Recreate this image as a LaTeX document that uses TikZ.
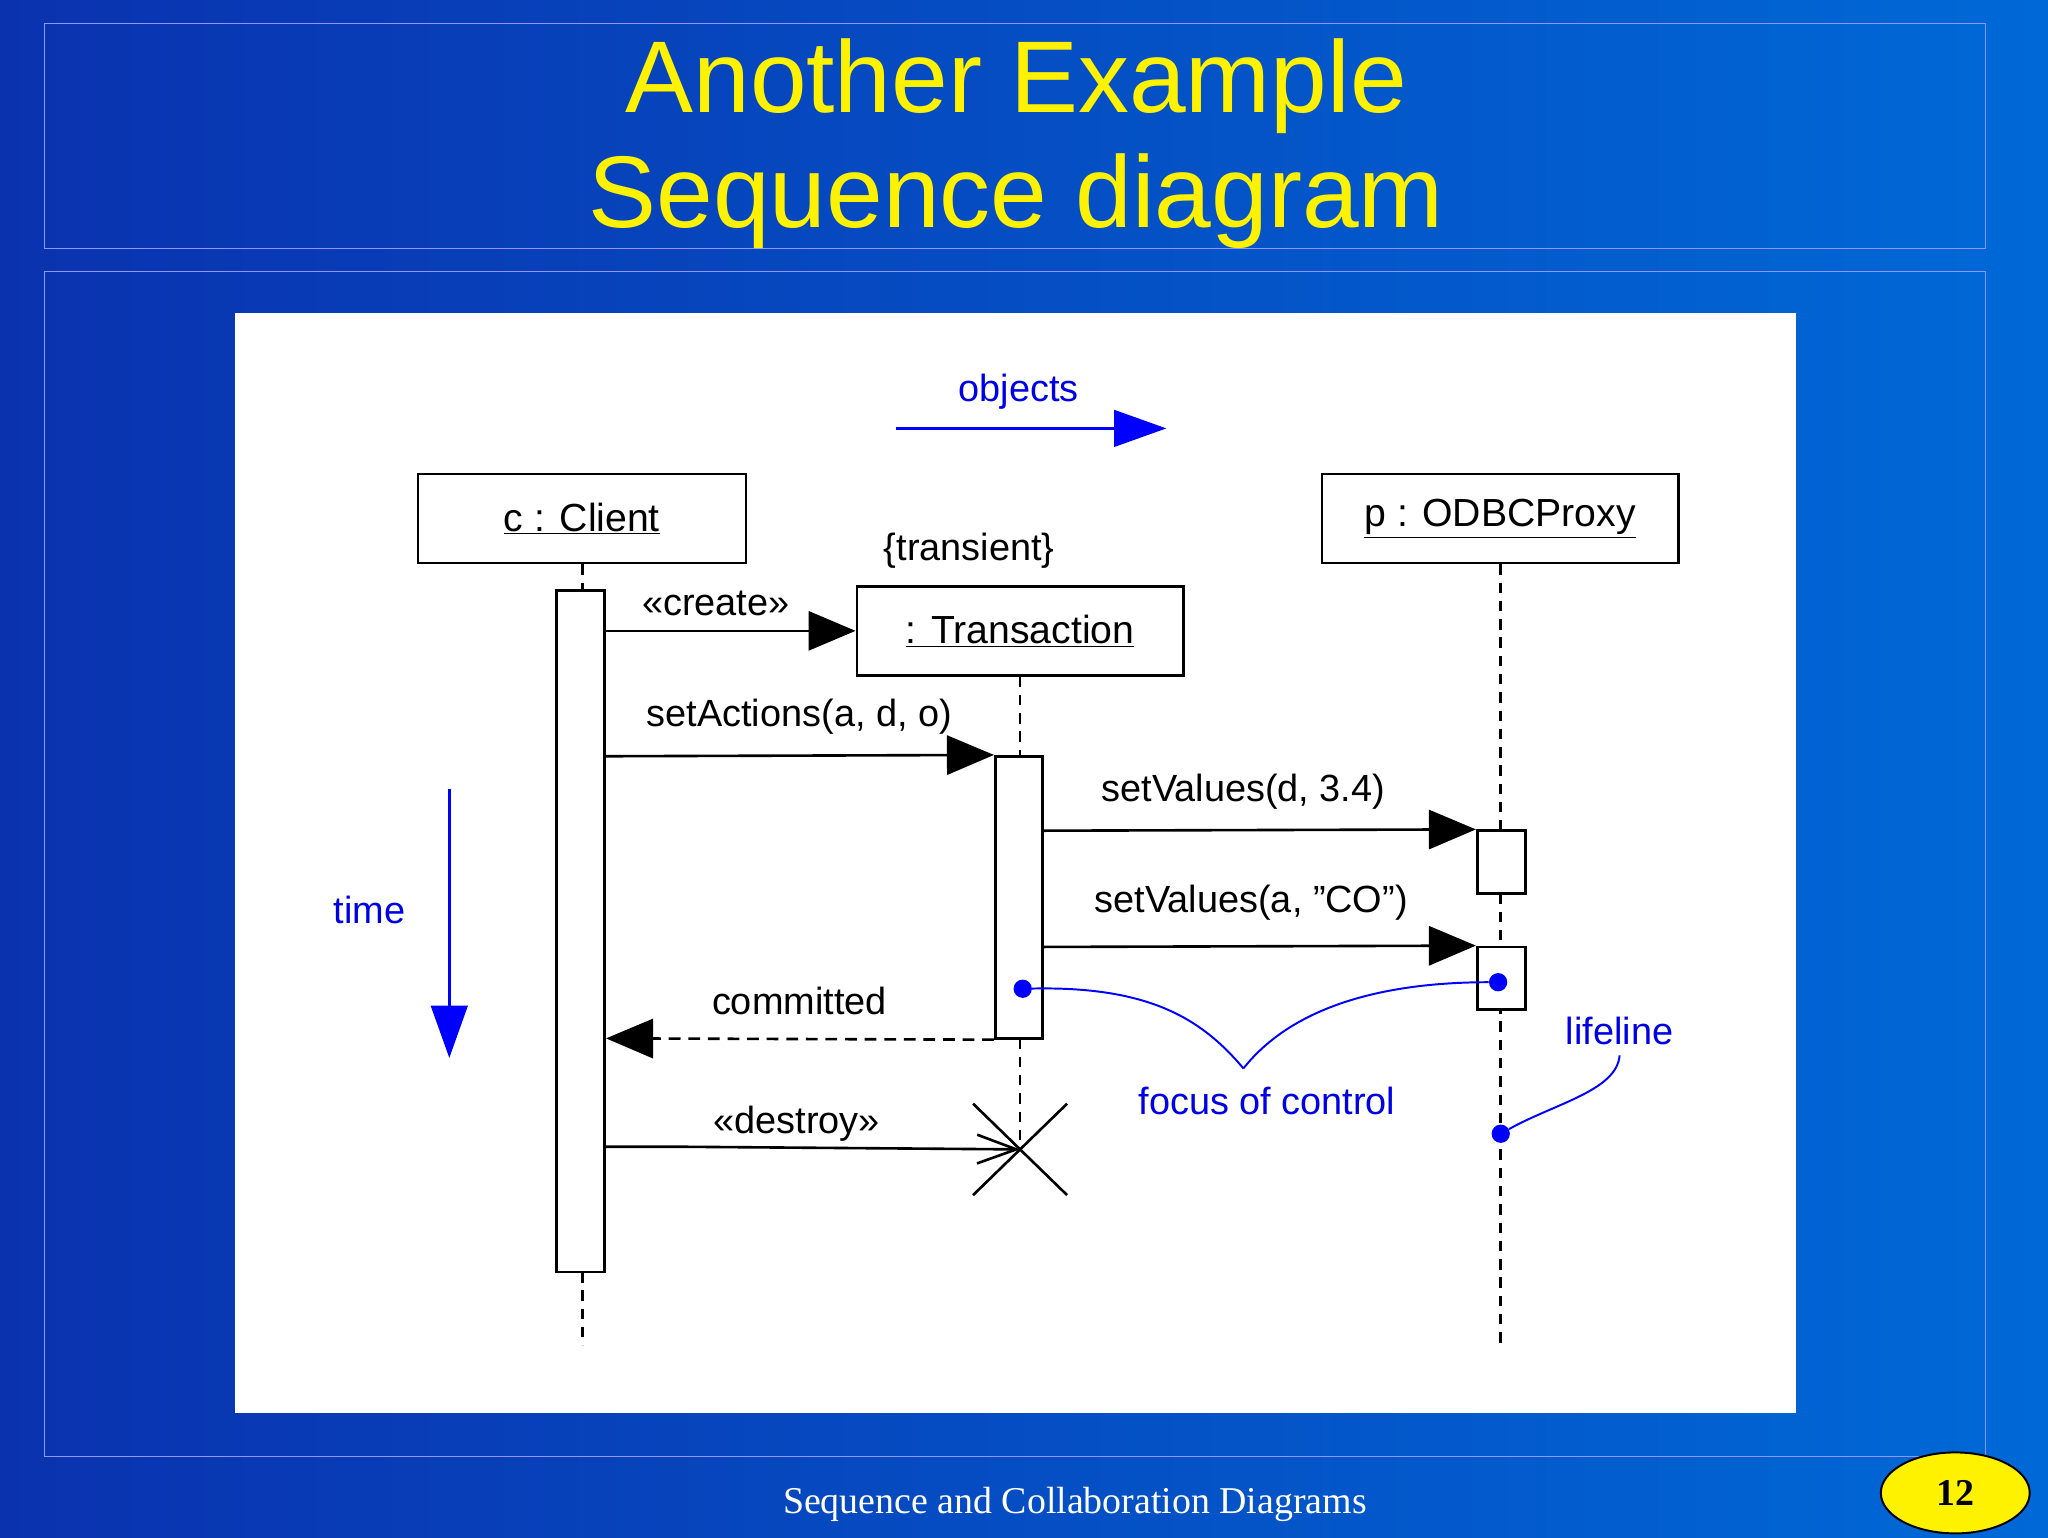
\documentclass[tikz,border=0pt]{standalone}
\usepackage{fontspec}
\setmainfont{Liberation Sans}
\newfontfamily\seriffont{Liberation Serif}
\usetikzlibrary{arrows.meta,shapes.geometric}
\begin{document}
\begin{tikzpicture}[x=1pt,y=-1pt,
  obj/.style={draw,line width=2pt,fill=white,minimum height=68pt,font=\fontsize{30}{34}\selectfont,inner sep=0pt},
  act/.style={draw,line width=2pt,fill=white,inner sep=0pt},
  lbl/.style={font=\fontsize{29}{34}\selectfont},
  bl/.style={font=\fontsize{29}{34}\selectfont,text=blue!90!black},
  msg/.style={line width=2pt,-{Triangle[length=36pt,width=30pt]}},
  life/.style={line width=2pt,dash pattern=on 8pt off 6pt},
  bdot/.style={circle,fill=blue,inner sep=0pt,minimum size=14pt}]
\useasboundingbox (0,0) rectangle (1568,1177);
\shade[left color={rgb,255:red,10;green,50;blue,175},right color={rgb,255:red,0;green,105;blue,215}] (0,0) rectangle (1568,1177);
\draw[white!40!blue!70,line width=1pt] (34,18) rectangle (1520,190);
\draw[white!40!blue!70,line width=1pt] (34,208) rectangle (1520,1115);
\node[text=yellow,font=\fontsize{78}{88}\selectfont,align=center] (title) at (778,110) {Another Example\\Sequence diagram};
\fill[white] (180,240) rectangle (1375,1082);
% objects
\node[bl] (objl) at (780,300) {objects};
\coordinate (oa) at (686,328); \coordinate (ob) at (893,328);
\draw[blue,line width=2pt,-{Triangle[length=40pt,width=28pt]}] (oa) -- (ob);
\node[obj,minimum width=251pt] (client) at (445.5,397) {\underline{c : Client}};
\node[obj,minimum width=273pt] (proxy) at (1148.5,397) {\underline{p : ODBCProxy}};
\node[lbl] (trl) at (742,422) {\{transient\}};
\node[obj,minimum width=250pt] (trans) at (781,483) {\underline{: Transaction}};
% lifelines
\coordinate (c1) at (446,452); \coordinate (c2) at (446,974); \coordinate (c3) at (446,1030);
\draw[life] (client.south -| c1) -- (c1);
\draw[life] (c2) -- (c3);
\node[act,minimum width=37pt,minimum height=522pt] (cact) at (444.5,713) {};
\coordinate (t1) at (781,579); \coordinate (t2) at (781,795); \coordinate (tx) at (781,880);
\draw[life] (trans.south) -- (t1);
\draw[life] (t2) -- (tx);
\node[act,minimum width=36pt,minimum height=216pt] (tact) at (780,687) {};
\coordinate (p1) at (1149,1028);
\draw[life] (proxy.south -| p1) -- (p1);
\node[act,minimum width=37pt,minimum height=48pt] (pa1) at (1149.5,660) {};
\node[act,minimum width=37pt,minimum height=48pt] (pa2) at (1149.5,749) {};
% destroy X
\draw[line width=2pt] (745,845) -- (817,915) (745,915) -- (817,845);
% messages
\draw[msg] (cact.east |- 0,483) -- (trans.west);
\node[lbl] (m1) at (548,462) {«create»};
\draw[msg] (cact.east |- 0,579) -- (tact.north west);
\node[lbl] (m2) at (612,549) {setActions(a, d, o)};
\draw[msg] (tact.east |- 0,636) -- (pa1.north west);
\node[lbl] (m3) at (952,606) {setValues(d, 3.4)};
\draw[msg] (tact.east |- 0,725) -- (pa2.north west);
\node[lbl] (m4) at (958,691) {setValues(a, "CO")};
\draw[msg,dash pattern=on 9pt off 6pt] (tact.south west) -- (cact.east |- 0,795);
\node[lbl] (m5) at (612,766) {committed};
\draw[line width=2pt,-{Straight Barb[length=30pt,width=22pt]}] (cact.east |- 0,878) -- (525,878) -- (tx);
\node[lbl] (m6) at (610,860) {«destroy»};
% time
\node[bl] (time) at (283,697) {time};
\coordinate (ta) at (344,604); \coordinate (tb) at (344,810);
\draw[blue,line width=2pt,-{Triangle[length=40pt,width=28pt]}] (ta) -- (tb);
% focus of control
\node[bdot] (d1) at (783,757) {};
\node[bdot] (d2) at (1147,752) {};
\coordinate (fc) at (952,818);
\draw[blue,line width=1.5pt] (d1) .. controls (880,755) and (920,780) .. (fc);
\draw[blue,line width=1.5pt] (fc) .. controls (990,770) and (1060,752) .. (d2);
\node[bl] (foc) at (970,843) {focus of control};
% lifeline
\node[bl] (lifel) at (1240,789) {lifeline};
\node[bdot] (d3) at (1149,868) {};
\draw[blue,line width=1.5pt] (1240,808) .. controls (1238,835) and (1190,845) .. (d3);
% footer
\node[text=white,font=\seriffont\fontsize{29}{34}\selectfont] (foot) at (823,1152) {Sequence and Collaboration Diagrams};
\node[ellipse,draw=black,line width=1.5pt,fill=yellow,minimum width=114pt,minimum height=62pt,font=\seriffont\bfseries\fontsize{29}{34}\selectfont] (pg) at (1497,1143) {12};
\end{tikzpicture}
\end{document}
